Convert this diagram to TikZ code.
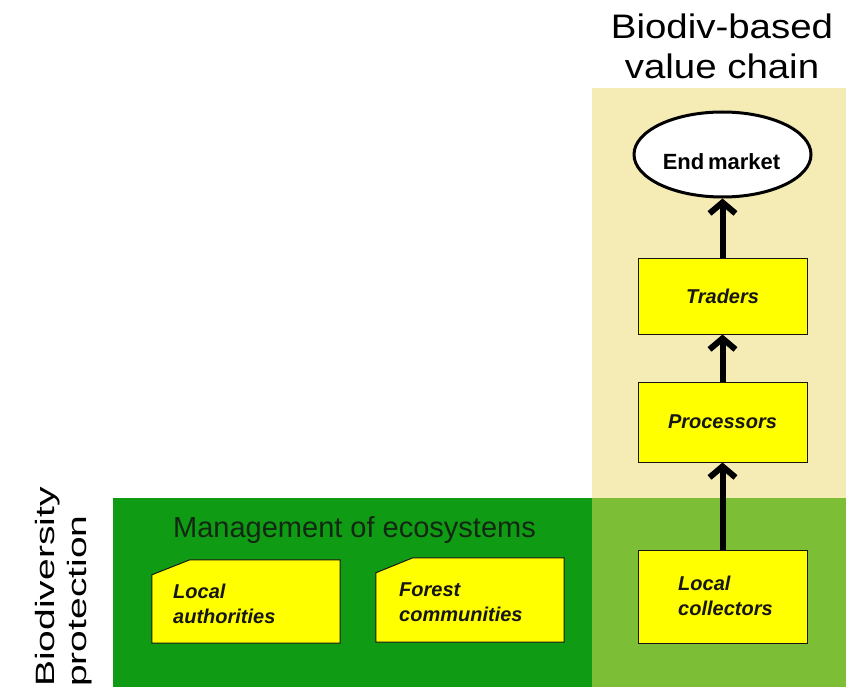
\documentclass[tikz,border=0pt]{standalone}
\usepackage{fontspec}
\setmainfont{Liberation Sans}
\usetikzlibrary{arrows.meta,shapes.geometric,calc}
\definecolor{beigebg}{RGB}{245,235,180}
\definecolor{darkgreenbg}{RGB}{16,155,20}
\definecolor{lightgreenbg}{RGB}{125,190,55}
\definecolor{boxyellow}{RGB}{255,255,0}
\definecolor{darktext}{RGB}{22,22,22}
\definecolor{mgmttext}{RGB}{18,40,18}
\tikzset{
  region/.style={draw=none},
  vcbox/.style={draw=darktext, line width=1pt, fill=boxyellow, rectangle, inner sep=0pt,
    minimum width=169pt, text=darktext,
    font=\fontsize{20}{25}\selectfont\bfseries\itshape},
  boxtext/.style={anchor=west, align=left, inner sep=0pt, text=darktext,
    font=\fontsize{20}{25}\selectfont\bfseries\itshape},
  cutbox/.style={draw=darktext, line width=1pt, fill=boxyellow},
  ghost/.style={rectangle, inner sep=0pt, minimum width=188pt},
  chain/.style={line width=6pt, draw=black,
    -{Straight Barb[length=11pt,width=26pt]}},
}
\begin{document}
\begin{tikzpicture}[x=1pt,y=-1pt]
\path[use as bounding box] (0,0) rectangle (858,687);
% background regions
\fill[beigebg] (592,88) rectangle (846,498);
\fill[darkgreenbg] (113,498) rectangle (592,687);
\fill[lightgreenbg] (592,498) rectangle (846,687);

% titles
\node[align=center, inner sep=0pt, font=\fontsize{34}{40}\selectfont] (title) at (722,46)
  {\scalebox{1.13}[1]{Biodiv-based}\\\scalebox{1.13}[1]{value chain}};
\node[rotate=90, anchor=north west, inner sep=0pt] (bioprot) at (28,687)
  {\scalebox{1}[0.68]{\fontsize{39}{56}\selectfont\begin{tabular}{@{}l@{}}Biodiversity\\[-9pt]protection\end{tabular}}};
\node[anchor=base west, inner sep=0pt, text=mgmttext, font=\fontsize{29}{34}\selectfont] (mgmt) at (173,537)
  {Management of ecosystems};

% value chain
\node[ellipse, draw=black, line width=3pt, fill=white, minimum width=177pt, minimum height=85pt,
  inner sep=0pt] (em) at (722.5,154.5) {};
\node[inner sep=0pt, font=\fontsize{22}{26}\selectfont\bfseries] (emtext) at (721.5,162) {End\,market};
\node[vcbox, minimum height=76pt] (tr) at (722.5,296) {Traders};
\node[vcbox, minimum height=80pt] (pr) at (722.5,422) {Processors};
\node[vcbox, minimum height=93pt] (lc) at (722.5,596.5) {};
\node[boxtext] (lctext) at (678,596) {Local\\collectors};

\draw[chain] (lc.north) -- (pr.south);
\draw[chain] (pr.north) -- (tr.south);
\draw[chain] (tr.north) -- (em.south);

% ecosystem management boxes
\node[ghost, minimum height=83pt] (la) at (246,601.5) {};
\draw[cutbox] ($(la.north west)+(0,15)$) -- ($(la.north west)+(38,0)$) -- (la.north east)
  -- (la.south east) -- (la.south west) -- cycle;
\node[boxtext] (latext) at (173,604) {Local\\authorities};

\node[ghost, minimum height=84pt] (fc) at (470,600) {};
\draw[cutbox] ($(fc.north west)+(0,15)$) -- ($(fc.north west)+(37,0)$) -- (fc.north east)
  -- (fc.south east) -- (fc.south west) -- cycle;
\node[boxtext] (fctext) at (399,602) {Forest\\communities};
\end{tikzpicture}
\end{document}
